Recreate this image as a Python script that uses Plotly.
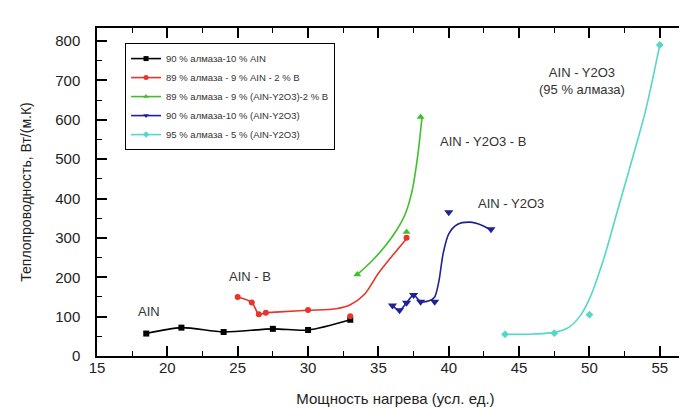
import plotly.graph_objects as go

# ---- data ----
black_x = [18.5, 21, 24, 27.5, 30, 33]
black_y = [57, 72, 61, 69, 66, 92]

red_x = [25, 26, 26.5, 27, 30, 33, 37]
red_y = [150, 136, 106, 110, 117, 101, 300]
red_curve_x = [25, 26, 26.5, 27, 28, 30, 32, 33, 34, 35, 36, 37]
red_curve_y = [150, 136, 106, 110, 112, 116, 120, 130, 156, 210, 255, 298]

green_x = [33.5, 37, 38]
green_y = [207, 315, 607]
green_curve_x = [33.5, 34.5, 35.5, 36.3, 36.9, 37.4, 37.8, 38.1]
green_curve_y = [207, 240, 280, 320, 360, 420, 510, 607]

blue_x = [36, 36.5, 37, 37.5, 38, 39, 40, 43]
blue_y = [128, 116, 135, 155, 138, 138, 365, 322]
blue_curve_x = [36, 36.5, 37, 37.5, 38, 38.6, 39.0, 39.3, 39.6, 40.0, 40.6, 41.5, 42.3, 43]
blue_curve_y = [128, 116, 135, 155, 138, 140, 150, 190, 260, 310, 334, 340, 333, 320]

cyan_x = [44, 47.5, 50, 55]
cyan_y = [55, 58, 105, 790]
cyan_curve_x = [44, 46, 47.5, 48.5, 49.3, 50, 51, 52, 53, 54, 55]
cyan_curve_y = [55, 56, 60, 72, 100, 145, 245, 370, 495, 625, 790]

legend_names = [
    "90 % алмаза-10 % AIN",
    "89 % алмаза - 9 % AIN - 2 % B",
    "89 % алмаза - 9 % (AIN-Y2O3)-2 % B",
    "90 % алмаза-10 % (AIN-Y2O3)",
    "95 % алмаза - 5 % (AIN-Y2O3)",
]

labels_text = ["AIN", "AIN - B", "AIN - Y2O3 - B", "AIN - Y2O3", "AIN - Y2O3<br>(95 % алмаза)"]
labels_x = [18.7, 25.9, 42.4, 44.4, 49.5]
labels_y = [112, 203, 546, 388, 698]

x_title = "Мощность нагрева (усл. ед.)"
y_title = "Теплопроводность, Вт/(м.К)"

# ---- styles ----
colors = ["#000000", "#e8342a", "#3fbf2a", "#1f2290", "#55d6c8"]
symbols = ["square", "circle", "triangle-up", "triangle-down", "diamond"]
msizes = [6, 6, 7, 8, 6]
FONT = "Arial, Liberation Sans, sans-serif"

series = [
    (black_x, black_y, black_x, black_y),
    (red_x, red_y, red_curve_x, red_curve_y),
    (green_x, green_y, green_curve_x, green_curve_y),
    (blue_x, blue_y, blue_curve_x, blue_curve_y),
    (cyan_x, cyan_y, cyan_curve_x, cyan_curve_y),
]

fig = go.Figure()
for i, (px, py, cx, cy) in enumerate(series):
    fig.add_trace(go.Scatter(
        x=cx, y=cy, mode="lines", line=dict(color=colors[i], width=1.6, shape="spline", smoothing=0.8),
        showlegend=False, hoverinfo="skip"))
    fig.add_trace(go.Scatter(
        x=px, y=py, mode="markers",
        marker=dict(color=colors[i], symbol=symbols[i], size=msizes[i]),
        showlegend=False))
    # legend entry (line + marker)
    fig.add_trace(go.Scatter(
        x=[None], y=[None], mode="lines+markers", name=legend_names[i],
        line=dict(color=colors[i], width=1.6),
        marker=dict(color=colors[i], symbol=symbols[i], size=5)))

for t, x, y in zip(labels_text, labels_x, labels_y):
    fig.add_annotation(x=x, y=y, text=t, showarrow=False,
                       font=dict(family=FONT, size=13, color="#333333"))

axis_common = dict(
    showline=True, linecolor="black", linewidth=1.5, mirror="ticks",
    ticks="inside", ticklen=10, tickwidth=1.5, tickcolor="black",
    showgrid=False, zeroline=False, automargin=False,
    tickfont=dict(family=FONT, size=15, color="#222222"),
)

fig.update_xaxes(range=[15, 57.43], tick0=15, dtick=5,
                 minor=dict(ticks="inside", ticklen=5, dtick=2.5, tick0=15, tickcolor="black", tickwidth=1.2),
                 title=dict(text=x_title, font=dict(family=FONT, size=15, color="#222222"), standoff=19),
                 ticklabelstandoff=-3,
                 **axis_common)
fig.update_yaxes(range=[0, 833], tick0=0, dtick=100,
                 minor=dict(ticks="inside", ticklen=5, dtick=50, tick0=0, tickcolor="black", tickwidth=1.2),
                 title=dict(text=y_title, font=dict(family=FONT, size=14, color="#222222"), standoff=20),
                 ticklabelstandoff=12,
                 **axis_common)

fig.update_layout(
    width=687, height=410,
    margin=dict(l=89, r=1, t=20, b=62),
    paper_bgcolor="white", plot_bgcolor="white",
    legend=dict(x=0.047, y=0.954, xanchor="left", yanchor="top",
                bgcolor="white", bordercolor="black", borderwidth=1,
                font=dict(family=FONT, size=9.5, color="#333333"),
                tracegroupgap=0, itemwidth=30),
)

fig.write_html("out.html")
